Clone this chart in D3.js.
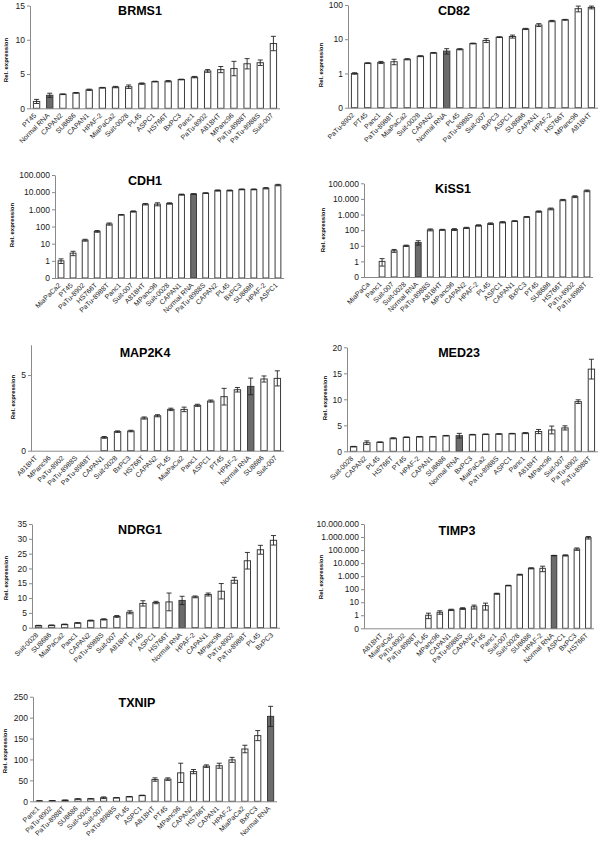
<!DOCTYPE html>
<html><head><meta charset="utf-8">
<script src="https://cdn.jsdelivr.net/npm/d3@7"></script>
<style>body{margin:0;background:#fff}svg{display:block;font-family:Arial,"Liberation Sans",sans-serif}</style>
</head><body><svg id="c" width="600" height="841"></svg>
<script>
// ---------- data ----------
const brms1Cats = ["PT45","Normal RNA","CAPAN2","SU8686","CAPAN1","HPAF-2","MiaPaCa2","Suit-0028","PL45","ASPC1","HS766T","BxPC3","Panc1","PaTu-8902","A818HT","MPanc96","PaTu-8988T","PaTu-8988S","Suit-007"];
const brms1Vals = [1.0,1.9,2.05,2.25,2.7,3.0,3.1,3.15,3.6,3.9,3.95,4.2,4.55,5.45,5.65,5.8,6.5,6.65,9.45];
const brms1Errs = [0.3,0.3,0.05,0.05,0.1,0.05,0.1,0.25,0.1,0.05,0.1,0.05,0.1,0.2,0.45,1.05,0.75,0.4,1.05];

const cd82Cats = ["PaTu-8902","PT45","Panc1","PaTu-8988T","MiaPaCa2","Suit-0028","CAPAN2","Normal RNA","PL45","PaTu-8988S","Suit-007","BxPC3","ASPC1","SU8686","CAPAN1","HPAF-2","HS766T","MPanc96","A818HT"];
const cd82Vals = [1.0,2.0,2.1,2.2,2.6,3.2,4.0,4.5,5.1,7.5,9.2,11.5,12,20,26,34,37,78,85];
const cd82Errs = [0.05,0.05,0.15,0.4,0.1,0.1,0.1,0.8,0.2,0.2,1.2,0.3,1.2,0.8,2.5,1.5,1,15,8];

const cdh1Cats = ["MiaPaCa2","PT45","PaTu-8902","HS766T","PaTu-8988T","Panc1","Suit-007","A818HT","MPanc96","Suit-0028","CAPAN1","Normal RNA","PaTu-8988S","CAPAN2","PL45","BxPC3","SU8686","HPAF-2","ASPC1"];
const cdh1Vals = [1.0,2.8,16,52,140,480,750,2000,2000,2200,7200,7800,8800,12500,12500,14500,14500,17000,26000];
const cdh1Errs = [0.3,0.8,2,6,20,20,60,200,400,200,500,300,400,1000,800,800,800,1500,2500];

const kiss1Cats = ["MiaPaCa","Panc1","Suit-007","Suit-0028","Normal RNA","PaTu-8988S","A818HT","MPanc96","CAPAN2","HPAF-2","PL45","ASPC1","CAPAN1","BxPC3","PT45","SU8686","HS766T","PaTu-8902","PaTu-8988T"];
const kiss1Vals = [0,1.0,4.8,10,16,105,105,110,140,200,260,320,380,700,1550,2300,8500,14000,33000];
const kiss1Errs = [0,0.5,1,1,5,15,8,15,12,20,30,30,20,40,150,300,800,1800,4000];

const map2k4Cats = ["A818HT","MPanc96","PaTu-8902","PaTu-8988S","PaTu-8988T","CAPAN1","Suit-0028","BxPC3","HS766T","CAPAN2","PL45","MiaPaCa2","Panc1","ASPC1","PT45","HPAF-2","Normal RNA","SU8686","Suit-007"];
const map2k4Vals = [0,0,0,0,0,0.88,1.26,1.3,2.16,2.31,2.73,2.73,3.0,3.28,3.57,4.03,4.25,4.74,4.78];
const map2k4Errs = [0,0,0,0,0,0.06,0.05,0.05,0.07,0.07,0.08,0.15,0.07,0.07,0.55,0.15,0.55,0.2,0.5];

const med23Cats = ["Suit-0028","CAPAN2","PL45","HS766T","PT45","HPAF-2","CAPAN1","SU8686","Normal RNA","BxPC3","MiaPaCa2","PaTu-8988S","ASPC1","Panc1","A818HT","MPanc96","Suit-007","PaTu-8902","PaTu-8988T"];
const med23Vals = [0.9,1.65,1.75,2.5,2.7,2.8,2.8,3.0,3.0,3.2,3.27,3.33,3.4,3.5,3.8,4.1,4.5,9.55,15.8];
const med23Errs = [0.05,0.35,0.05,0.1,0.05,0.05,0.05,0.05,0.45,0.05,0.05,0.05,0.05,0.1,0.4,0.75,0.4,0.35,1.9];

const ndrg1Cats = ["Suit-0028","SU8686","MiaPaCa2","Panc1","CAPAN2","PaTu-8988S","Suit-007","A818HT","PT45","ASPC1","HS766T","Normal RNA","HPAF-2","CAPAN1","MPanc96","PaTu-8902","PaTu-8988T","PL45","BxPC3"];
const ndrg1Vals = [0.7,0.8,1.1,1.6,2.4,2.8,3.8,5.2,8.2,8.5,8.7,9.2,10.4,11.2,12.3,16,22.6,26.3,29.5];
const ndrg1Errs = [0.1,0.1,0.1,0.1,0.15,0.2,0.3,0.5,0.9,0.4,3.0,1.4,0.3,0.5,2.6,1.0,2.8,1.5,1.6];

const timp3Cats = ["A818HT","MiaPaCa2","PaTu-8902","PaTu-8988T","PL45","MPanc96","CAPAN1","PaTu-8988S","CAPAN2","PT45","Panc1","Suit-007","Suit-0028","SU8686","HPAF-2","Normal RNA","ASPC1","BxPC3","HS766T"];
const timp3Vals = [0,0,0,0,1.0,1.7,2.6,3.3,4.5,5.5,45,190,1300,4000,4000,38000,39000,120000,900000];
const timp3Errs = [0,0,0,0,0.45,0.5,0.3,0.5,1.5,3.0,4,10,100,400,1800,1500,4000,25000,200000];

const txnipCats = ["Panc1","PaTu-8902","PaTu-8988T","SU8686","Suit-0028","Suit-007","PaTu-8988S","PL45","ASPC1","A818HT","PT45","MPanc96","CAPAN2","HS766T","CAPAN1","HPAF-2","MiaPaCa2","BxPC3","Normal RNA"];
const txnipVals = [1,1.5,2.5,5.5,6,8.5,8.5,11,14,52,53,68,71,84,85,99,125,157,203];
const txnipErrs = [0.3,0.3,0.5,0.5,0.3,2,0.5,0.5,0.5,4,3,23,5,3,6,6,9,12,24];

const linTicks15 = [0,5,10,15];
const linTicks7 = [0,5];
const linTicks20 = [0,5,10,15,20];
const linTicks35 = [0,5,10,15,20,25,30,35];
const linTicks250 = [0,50,100,150,200,250];
const logTicks100 = [0.1,1,10,100];
const logTicks1e5 = [0.1,1,10,100,1000,10000,100000];
const logTicks1e7 = [0.1,1,10,100,1000,10000,100000,1000000,10000000];

const yTitle = "Rel. expression";
const refCat = "Normal RNA";

// ---------- panels ----------
const panels = [
 {title:"BRMS1", cats:brms1Cats, vals:brms1Vals, errs:brms1Errs, log:false, ticks:linTicks15},
 {title:"CD82", cats:cd82Cats, vals:cd82Vals, errs:cd82Errs, log:true, ticks:logTicks100},
 {title:"CDH1", cats:cdh1Cats, vals:cdh1Vals, errs:cdh1Errs, log:true, ticks:logTicks1e5},
 {title:"KiSS1", cats:kiss1Cats, vals:kiss1Vals, errs:kiss1Errs, log:true, ticks:logTicks1e5},
 {title:"MAP2K4", cats:map2k4Cats, vals:map2k4Vals, errs:map2k4Errs, log:false, ticks:linTicks7, max:7},
 {title:"MED23", cats:med23Cats, vals:med23Vals, errs:med23Errs, log:false, ticks:linTicks20},
 {title:"NDRG1", cats:ndrg1Cats, vals:ndrg1Vals, errs:ndrg1Errs, log:false, ticks:linTicks35},
 {title:"TIMP3", cats:timp3Cats, vals:timp3Vals, errs:timp3Errs, log:true, ticks:logTicks1e7},
 {title:"TXNIP", cats:txnipCats, vals:txnipVals, errs:txnipErrs, log:false, ticks:linTicks250}
];

// layout (pixel geometry)
const layout = [
 {x0:30, x1:280, yT:5.5, yB:108.3, tx:140, ty:14.5, lx:6, ly:60},
 {x0:348, x1:598, yT:5, yB:107.7, tx:454, ty:14.5, lx:321, ly:65},
 {x0:55, x1:284, yT:175, yB:278, tx:145, ty:185, lx:12, ly:225},
 {x0:364, x1:593, yT:183.3, yB:277, tx:453, ty:193, lx:323, ly:230},
 {x0:31, x1:284, yT:344.8, yB:450.7, tx:145, ty:357, lx:13, ly:397},
 {x0:347, x1:598, yT:347.3, yB:451.3, tx:459, ty:357, lx:325, ly:398},
 {x0:32, x1:280, yT:524, yB:627.7, tx:140, ty:534, lx:6, ly:578},
 {x0:364, x1:594, b0:377, yT:524, yB:628.3, tx:457, ty:534.5, lx:321, ly:577},
 {x0:33, x1:277, yT:696.7, yB:801.3, tx:137, ty:706.5, lx:5, ly:751}
];

const svg = d3.select("#c");
const axisCol = "#8a8a8a", barStroke = "#3c3c3c", grayFill = "#6b6b6b", txtCol = "#1a1a1a";
const fmtLog = v => v < 1 ? "0" : d3.format(",")(v).replace(/,/g, ".");

panels.forEach((p, i) => {
  const L = layout[i];
  const g = svg.append("g");
  const x = d3.scaleBand().domain(p.cats).range([L.b0 || L.x0, L.x1]).paddingInner(0.52).paddingOuter(0.26);
  let y;
  if (p.log) {
    y = d3.scaleLog().domain([p.ticks[0], p.ticks[p.ticks.length-1]]).range([L.yB, L.yT]);
  } else {
    y = d3.scaleLinear().domain([0, p.max || p.ticks[p.ticks.length-1]]).range([L.yB, L.yT]);
  }
  const base = p.log ? p.ticks[0] : 0;
  const data = p.cats.map((c, k) => ({c, v:p.vals[k], e:p.errs[k]}));

  // bars
  g.selectAll("rect.bar").data(data.filter(d => d.v > 0)).join("rect")
    .attr("x", d => x(d.c)).attr("width", x.bandwidth())
    .attr("y", d => y(d.v)).attr("height", d => y(base) - y(d.v))
    .attr("fill", d => d.c === refCat ? grayFill : "#fff")
    .attr("stroke", barStroke).attr("stroke-width", 1);

  // error bars
  const eg = g.selectAll("g.err").data(data.filter(d => d.v > 0)).join("g");
  const lo = d => y(Math.max(d.v - d.e, base));
  const hi = d => y(d.v + d.e);
  const cx = d => x(d.c) + x.bandwidth()/2;
  eg.append("line").attr("x1", cx).attr("x2", cx).attr("y1", lo).attr("y2", hi)
    .attr("stroke", "#222").attr("stroke-width", 0.9);
  eg.append("line").attr("x1", d => cx(d)-2.5).attr("x2", d => cx(d)+2.5).attr("y1", hi).attr("y2", hi)
    .attr("stroke", "#222").attr("stroke-width", 0.9);
  eg.append("line").attr("x1", d => cx(d)-2.5).attr("x2", d => cx(d)+2.5).attr("y1", lo).attr("y2", lo)
    .attr("stroke", "#222").attr("stroke-width", 0.9);

  // y axis
  const ya = g.append("g").attr("transform", `translate(${L.x0},0)`)
    .call(d3.axisLeft(y).tickValues(p.ticks).tickSize(3).tickSizeOuter(0)
      .tickFormat(p.log ? fmtLog : d3.format("d")));
  ya.select(".domain").attr("stroke", axisCol);
  ya.selectAll(".tick line").attr("stroke", axisCol);
  ya.selectAll(".tick text").attr("fill", txtCol).attr("font-size", 8.5).attr("font-family", "Arial, Liberation Sans, sans-serif").attr("x", -5);

  // x axis
  const xa = g.append("g").attr("transform", `translate(0,${L.yB})`)
    .call(d3.axisBottom(x).tickSize(0).tickSizeOuter(0));
  xa.select(".domain").attr("stroke", axisCol).attr("d", `M${L.x0},0.5H${L.x1}`);
  xa.selectAll(".tick text").attr("fill", txtCol).attr("font-size", 7)
    .attr("font-family", "Arial, Liberation Sans, sans-serif")
    .attr("x", 0).attr("y", 0).attr("dy", "0.35em")
    .attr("transform", "translate(-1.5,6) rotate(-45)")
    .style("text-anchor", "end");

  // title
  g.append("text").attr("x", L.tx).attr("y", L.ty).attr("text-anchor", "middle")
    .attr("font-weight", "bold").attr("font-size", 12.5).attr("fill", "#000").text(p.title);

  // y title
  g.append("text").attr("transform", `translate(${L.lx},${L.ly}) rotate(-90)`)
    .attr("text-anchor", "middle").attr("dominant-baseline", "central")
    .attr("font-weight", "bold").attr("font-size", 6).attr("fill", "#000").text(yTitle);
});
</script></body></html>
